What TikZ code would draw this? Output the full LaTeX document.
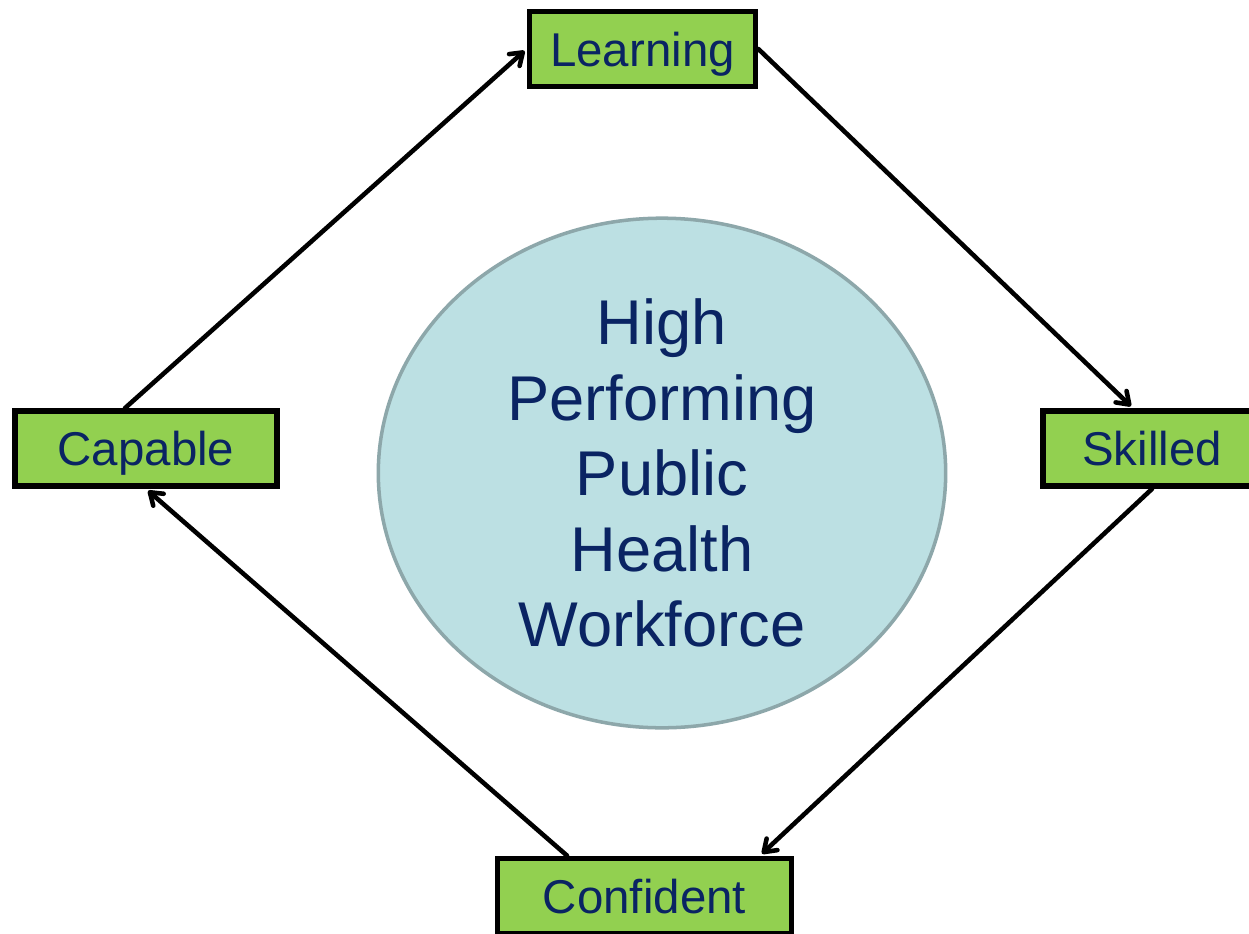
\documentclass[tikz,border=0pt]{standalone}
\usepackage{fontspec}
\setmainfont{Liberation Sans}
\usetikzlibrary{shapes.geometric,arrows.meta}
\definecolor{stepgreen}{HTML}{92D050}
\definecolor{textnavy}{HTML}{0A2463}
\definecolor{coreblue}{HTML}{BCE0E3}
\definecolor{coreedge}{HTML}{8DA7AA}
\tikzset{
  stage/.style={draw=black,fill=stepgreen,line width=3.3pt,rectangle,
    minimum height=1.5cm,inner sep=0pt,text height=19.5pt,text depth=0pt,
    text=textnavy,font=\fontsize{27}{32}\selectfont},
  flow/.style={line width=2.6pt,line cap=round,shorten >=1.6pt,
    -{Straight Barb[length=6.5pt,width=9pt,round]}}
}

\begin{document}
\begin{tikzpicture}[x=0.02cm,y=-0.02cm]
      \clip (0,0) rectangle (1249,934);
      \fill[white] (0,0) rectangle (1249,934);
      % Centre
      \node[ellipse,draw=coreedge,fill=coreblue,line width=2pt,
            minimum width=11.35cm,minimum height=10.05cm,align=center,
            text=textnavy,font=\fontsize{36}{43}\selectfont] (core) at (662,473)
            {High\\Performing\\Public\\Health\\Workforce};
      % Stages
      \node[stage,minimum width=4.52cm] (learn) at (642.5,49) {Learning};
      \node[stage,minimum width=4.35cm] (skill) at (1152,448.5) {Skilled};
      \node[stage,minimum width=5.88cm] (conf) at (644.5,896) {Confident};
      \node[stage,minimum width=5.25cm] (cap) at (146,448.5) {Capable};
      % Cycle
      \draw[flow] ([xshift=-0.42cm]cap.north) -- (learn.west);
      \draw[flow] (learn.east) -- ([xshift=-0.38cm]skill.north);
      \draw[flow] (skill.south) -- ([xshift=2.31cm]conf.north);
      \draw[flow] ([xshift=-1.55cm]conf.north) -- (cap.south);
\end{tikzpicture}
\end{document}
